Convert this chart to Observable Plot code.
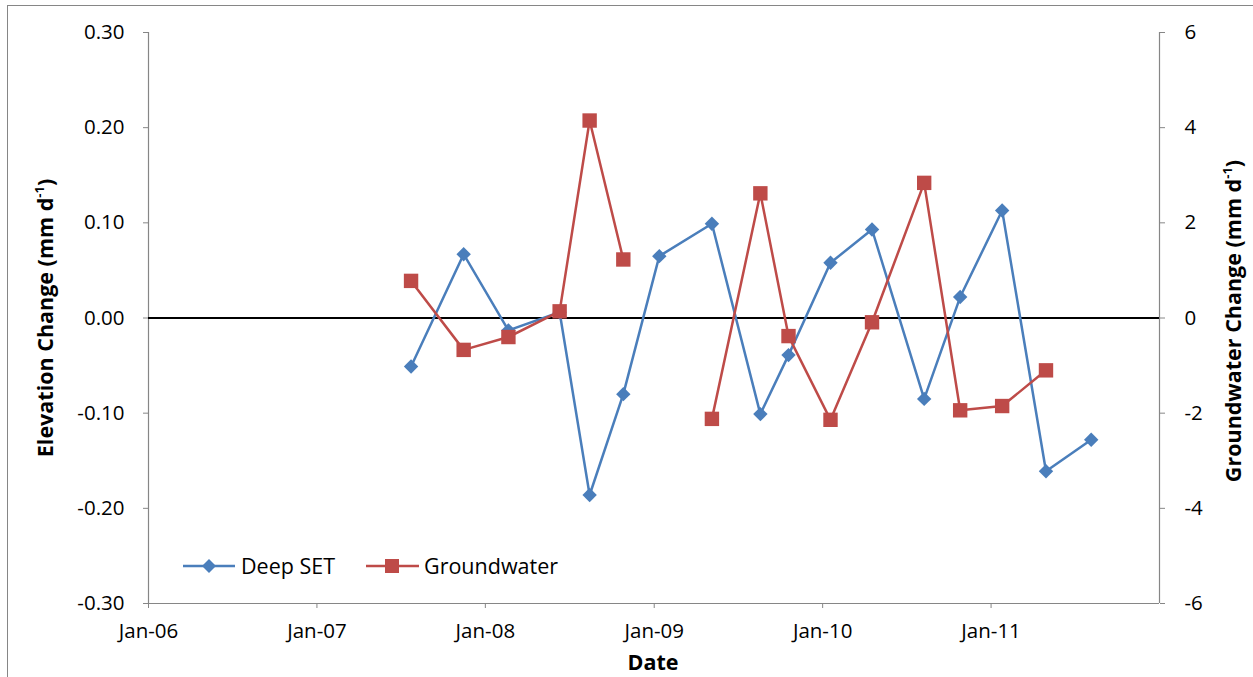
<!DOCTYPE html>
<html>
<head>
<meta charset="utf-8">
<script src="https://cdn.jsdelivr.net/npm/d3@7"></script>
<script src="https://cdn.jsdelivr.net/npm/@observablehq/plot@0.6"></script>
<style>
  html, body { margin: 0; padding: 0; background: #fff; overflow: hidden; }
  #wrap { position: relative; width: 1253px; height: 677px; font-family: "Open Sans", sans-serif; }
  #border { position: absolute; left: 7px; top: 5px; width: 1300px; height: 700px; border: 1px solid #868686; box-sizing: border-box; }
  .title { position: absolute; font-weight: bold; font-size: 21.5px; color: #000; white-space: nowrap; }
  .rot { transform: translate(-50%, -50%) rotate(-90deg); }
  .legtext { position: absolute; font-size: 21.5px; color: #000; white-space: nowrap; transform: translateY(-52%); }
  sup { font-size: 13px; }
  #chart { position: absolute; left: 0; top: 0; }
</style>
</head>
<body>
<div id="wrap">
  <div id="border"></div>
  <div id="chart"></div>
  <div class="title rot" style="left:44px; top:318px;">Elevation Change (mm d<sup>-1</sup>)</div>
  <div class="title rot" style="left:1232px; top:321px;">Groundwater Change (mm d<sup>-1</sup>)</div>
  <div class="title" style="left:653px; top:661px; transform: translate(-50%,-50%);">Date</div>
  <svg style="position:absolute; left:181px; top:556px;" width="56" height="20">
    <line x1="2" y1="10" x2="54" y2="10" stroke="#4A7EBB" stroke-width="2.5"/>
    <path d="M28,3 L35,10 L28,17 L21,10 Z" fill="#4A7EBB"/>
  </svg>
  <div class="legtext" style="left:241px; top:566px;">Deep SET</div>
  <svg style="position:absolute; left:364px; top:556px;" width="58" height="20">
    <line x1="2" y1="10" x2="55" y2="10" stroke="#BE4B48" stroke-width="2.5"/>
    <rect x="21" y="3" width="14" height="14" fill="#BE4B48"/>
  </svg>
  <div class="legtext" style="left:424px; top:566px;">Groundwater</div>
</div>
<script>
// ---- data ----
const dates = ["2007-07-24","2007-11-15","2008-02-20","2008-06-10","2008-08-14","2008-10-26",
               "2009-01-12","2009-05-06","2009-08-19","2009-10-19","2010-01-18","2010-04-18",
               "2010-08-09","2010-10-26","2011-01-25","2011-04-30","2011-08-06"];
const deepSET = [-0.051, 0.067, -0.013, 0.006, -0.186, -0.080,
                 0.065, 0.099, -0.101, -0.039, 0.058, 0.093,
                 -0.085, 0.022, 0.113, -0.161, -0.128];
const groundwater = [0.78, -0.67, -0.40, 0.14, 4.15, 1.23,
                     null, -2.12, 2.62, -0.38, -2.14, -0.09,
                     2.84, -1.94, -1.85, -1.10, null];
const leftTicks = [-0.3, -0.2, -0.1, 0, 0.1, 0.2, 0.3];
const rightTicks = [-6, -4, -2, 0, 2, 4, 6];
const xTickYears = ["2006-01-01","2007-01-01","2008-01-01","2009-01-01","2010-01-01","2011-01-01"];
const xDomain = ["2006-01-01", "2012-01-01"];

// ---- build ----
const ratio = 20; // right axis units per left axis unit
const rows = dates.map((d, i) => ({date: new Date(d), deep: deepSET[i], gw: groundwater[i]}));
const xTicks = xTickYears.map(d => new Date(d));
const xd = xDomain.map(d => new Date(d));

const diamond = {draw(ctx, size) { const h = Math.sqrt(size / Math.PI); ctx.moveTo(0, -h); ctx.lineTo(h, 0); ctx.lineTo(0, h); ctx.lineTo(-h, 0); ctx.closePath(); }};
const square = {draw(ctx, size) { const h = Math.sqrt(size / Math.PI); ctx.rect(-h, -h, 2 * h, 2 * h); }};

const blue = "#4A7EBB", red = "#BE4B48", gray = "#868686";
const fmt = d3.utcFormat("%b-%y");

const chart = Plot.plot({
  width: 1253,
  height: 677,
  marginLeft: 148,
  marginRight: 94,
  marginTop: 32,
  marginBottom: 74,
  style: {fontFamily: "Open Sans, sans-serif", fontSize: "20px", background: "transparent"},
  x: {type: "utc", domain: xd},
  y: {domain: [-0.3, 0.3]},
  marks: [
    Plot.ruleX(xd, {stroke: gray, strokeWidth: 1.2}),
    Plot.ruleY([-0.3], {stroke: gray, strokeWidth: 1.2}),
    Plot.axisY({ticks: leftTicks, tickSize: 5, tickPadding: 19, tickFormat: d => d.toFixed(2), stroke: gray, fill: "#000", fontSize: 20.5, label: null}),
    Plot.axisY({anchor: "right", ticks: leftTicks, tickSize: 5, tickPadding: 20, tickFormat: (d, i) => String(rightTicks[i]), stroke: gray, fill: "#000", fontSize: 20.5, textAnchor: "start", label: null}),
    Plot.axisX({ticks: xTicks, tickSize: 5, tickPadding: 15, tickFormat: fmt, stroke: gray, fill: "#000", fontSize: 20.5, label: null}),
    Plot.ruleY([0], {stroke: "#000", strokeWidth: 2}),
    Plot.line(rows, {x: "date", y: "deep", stroke: blue, strokeWidth: 2.5, curve: "linear"}),
    Plot.dot(rows, {x: "date", y: "deep", symbol: diamond, r: 7.2, fill: blue, stroke: "none"}),
    Plot.line(rows, {x: "date", y: d => d.gw == null ? NaN : d.gw / ratio, stroke: red, strokeWidth: 2.5, curve: "linear"}),
    Plot.dot(rows.filter(d => d.gw != null), {x: "date", y: d => d.gw / ratio, symbol: square, r: 7.2, fill: red, stroke: "none"})
  ]
});
document.getElementById("chart").appendChild(chart);
</script>
</body>
</html>
